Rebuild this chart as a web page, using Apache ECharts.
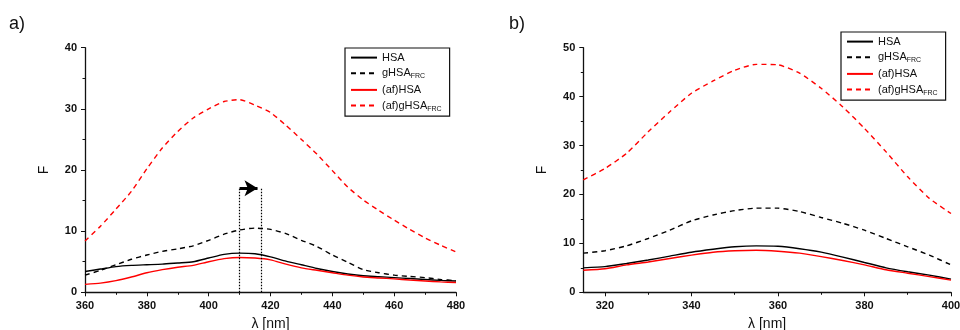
<!DOCTYPE html>
<html>
<head>
<meta charset="utf-8">
<script src="https://cdn.jsdelivr.net/npm/echarts@6/dist/echarts.min.js"></script>
<style>
  html, body { margin: 0; padding: 0; background: #fff; }
  #chart { width: 960px; height: 330px; }
</style>
</head>
<body>
<div id="chart"></div>
<script>
// 系列名称（下划线后为下标）
var seriesNames = ['HSA', 'gHSA_FRC', '(af)HSA', '(af)gHSA_FRC'];

// a) 面板
var lambdaA = [360, 365, 370, 375, 380, 385, 390, 395, 400, 405, 410, 415, 420,
               425, 430, 435, 440, 445, 450, 455, 460, 465, 470, 475, 480];
var hsaA     = [3.4, 3.8, 4.2, 4.4, 4.5, 4.6, 4.8, 5.0, 5.6, 6.2, 6.4, 6.3, 5.8,
                5.1, 4.5, 3.9, 3.4, 3.0, 2.7, 2.55, 2.4, 2.25, 2.1, 1.95, 1.85];
var gHsaA    = [2.8, 3.6, 4.5, 5.4, 6.1, 6.7, 7.1, 7.6, 8.5, 9.5, 10.2, 10.5, 10.3,
                9.6, 8.5, 7.5, 6.1, 4.9, 3.7, 3.2, 2.8, 2.6, 2.4, 2.1, 1.9];
var afHsaA   = [1.3, 1.5, 1.9, 2.5, 3.2, 3.7, 4.1, 4.4, 5.0, 5.5, 5.7, 5.6, 5.3,
                4.6, 4.0, 3.6, 3.2, 2.8, 2.5, 2.35, 2.2, 2.0, 1.85, 1.7, 1.6];
var afGHsaA  = [8.4, 10.8, 13.6, 16.5, 20.2, 23.6, 26.3, 28.5, 30.0, 31.2, 31.5, 30.6, 29.4,
                27.3, 25.0, 22.6, 19.9, 17.2, 15.1, 13.4, 11.8, 10.3, 8.9, 7.7, 6.6];
// 峰位移动标记
var peakShift = [410, 417];
var arrowLevel = 17;

// b) 面板
var lambdaB = [315, 320, 325, 330, 335, 340, 345, 350, 355, 360, 365, 370, 375,
               380, 385, 390, 395, 400];
var hsaB     = [5.0, 5.25, 5.9, 6.6, 7.4, 8.2, 8.8, 9.3, 9.5, 9.4, 8.9, 8.2, 7.2,
                6.1, 5.0, 4.2, 3.5, 2.7];
var gHsaB    = [8.0, 8.5, 9.5, 11.0, 12.7, 14.6, 15.8, 16.7, 17.2, 17.2, 16.5, 15.3, 14.1,
                12.7, 11.0, 9.3, 7.6, 5.6];
var afHsaB   = [4.5, 4.8, 5.6, 6.2, 6.9, 7.6, 8.2, 8.5, 8.6, 8.4, 8.0, 7.3, 6.5,
                5.6, 4.6, 3.9, 3.2, 2.5];
var afGHsaB  = [23.0, 25.3, 28.4, 32.8, 36.9, 40.7, 43.2, 45.4, 46.6, 46.5, 44.8, 41.7, 37.9,
                33.5, 28.7, 23.6, 19.2, 16.1];
var majorTicksB = [320, 340, 360, 380, 400];
var minorTicksB = [330, 350, 370, 390];

var FONT = 'Liberation Sans';
var styles = [
    { color: '#000', type: 'solid' },
    { color: '#000', type: [5, 4] },
    { color: '#ff0000', type: 'solid' },
    { color: '#ff0000', type: [5, 4] }
];

function pairs(xs, ys) {
    return xs.map(function (x, i) { return [x, ys[i]]; });
}

function makeSeries(xIdx, yIdx, xs, lists) {
    return lists.map(function (ys, i) {
        return {
            name: seriesNames[i],
            type: 'line',
            xAxisIndex: xIdx,
            yAxisIndex: yIdx,
            data: pairs(xs, ys),
            symbol: 'none',
            smooth: 0.2,
            z: 3,
            lineStyle: { color: styles[i].color, type: styles[i].type, width: 1.4 },
            itemStyle: { color: styles[i].color }
        };
    });
}

var axisLine = { show: true, lineStyle: { color: '#111', width: 1.3 } };
var tickLabel = { color: '#111', fontFamily: FONT, fontWeight: 'bold', fontSize: 11, margin: 8 };
var nameText = { color: '#111', fontFamily: FONT, fontSize: 14 };

function yAxis(grid, max) {
    return {
        type: 'value', gridIndex: grid, min: 0, max: max, interval: 10,
        name: 'F', nameLocation: 'middle', nameGap: 34, nameTextStyle: nameText,
        axisLine: axisLine,
        axisTick: { show: true, length: 4, lineStyle: { color: '#111', width: 1 } },
        minorTick: { show: true, splitNumber: 2, length: 2.5, lineStyle: { color: '#111', width: 1 } },
        axisLabel: tickLabel,
        splitLine: { show: false }
    };
}

function legend(left, top) {
    return {
        left: left, top: top, orient: 'vertical',
        data: seriesNames,
        itemWidth: 26, itemHeight: 14, itemGap: 4.5,
        padding: [4, 8, 4, 5],
        borderColor: '#111', borderWidth: 1.2,
        selectedMode: false,
        // 隐藏图例中的圆点，只保留线型
        itemStyle: { opacity: 0 },
        formatter: function (name) {
            var p = name.split('_');
            return '{n|' + p[0] + '}' + (p[1] ? '{s|' + p[1] + '}' : '');
        },
        textStyle: {
            color: '#111',
            rich: {
                n: { fontFamily: FONT, fontSize: 11, lineHeight: 13, color: '#111' },
                s: { fontFamily: FONT, fontSize: 7, lineHeight: 3, verticalAlign: 'bottom', color: '#111' }
            }
        }
    };
}

var seriesA = makeSeries(0, 0, lambdaA, [hsaA, gHsaA, afHsaA, afGHsaA]);
// 虚线标出峰位，箭头表示红移
seriesA[0].markLine = {
    silent: true,
    symbol: 'none',
    label: { show: false },
    animation: false,
    data: [
        [{ coord: [peakShift[0], 0] }, { coord: [peakShift[0], arrowLevel] }],
        [{ coord: [peakShift[1], 0] }, { coord: [peakShift[1], arrowLevel] }]
    ].map(function (d) {
        d[0].lineStyle = { type: [1.5, 1.5], color: '#000', width: 1.2 };
        return d;
    }).concat([
        [{ coord: [peakShift[0], arrowLevel], symbol: 'none',
           lineStyle: { type: 'solid', color: '#000', width: 3 } },
         { coord: [peakShift[1] - 1.2, arrowLevel], symbol: 'arrow', symbolSize: [12, 13] }]
    ])
};

var seriesB = makeSeries(1, 1, lambdaB, [hsaB, gHsaB, afHsaB, afGHsaB]);

var option = {
    animation: false,
    backgroundColor: '#fff',
    title: [
        { text: 'a)', left: 4, top: 10, textStyle: { fontFamily: FONT, fontSize: 18, fontWeight: 'normal', color: '#111' } },
        { text: 'b)', left: 504, top: 10, textStyle: { fontFamily: FONT, fontSize: 18, fontWeight: 'normal', color: '#111' } }
    ],
    legend: [legend(345, 48), legend(841, 32)],
    grid: [
        { left: 85, top: 47.7, width: 371, height: 244.6, outerBoundsMode: 'none' },
        { left: 583.3, top: 47.7, width: 367.7, height: 244.6, outerBoundsMode: 'none' }
    ],
    xAxis: [
        {
            type: 'value', gridIndex: 0, min: 360, max: 480, interval: 20,
            name: 'λ [nm]', nameLocation: 'middle', nameGap: 25, nameTextStyle: nameText,
            axisLine: axisLine,
            axisTick: { show: true, length: 4, lineStyle: { color: '#111', width: 1 } },
            minorTick: { show: true, splitNumber: 2, length: 2.5, lineStyle: { color: '#111', width: 1 } },
            axisLabel: tickLabel,
            splitLine: { show: false }
        },
        {
            type: 'value', gridIndex: 1, min: 315, max: 400, position: 'bottom',
            name: 'λ [nm]', nameLocation: 'middle', nameGap: 25, nameTextStyle: nameText,
            axisLine: axisLine,
            axisTick: { show: true, length: 4, customValues: majorTicksB, lineStyle: { color: '#111', width: 1 } },
            axisLabel: Object.assign({ customValues: majorTicksB }, tickLabel),
            splitLine: { show: false }
        },
        {
            // 次刻度
            type: 'value', gridIndex: 1, min: 315, max: 400, position: 'bottom',
            axisLine: { show: false },
            axisTick: { show: true, length: 2.5, customValues: minorTicksB, lineStyle: { color: '#111', width: 1 } },
            axisLabel: { show: false },
            splitLine: { show: false }
        }
    ],
    yAxis: [yAxis(0, 40), yAxis(1, 50)],
    series: seriesA.concat(seriesB)
};

var chart = echarts.init(document.getElementById('chart'), null, { renderer: 'canvas' });
chart.setOption(option);
</script>
</body>
</html>
